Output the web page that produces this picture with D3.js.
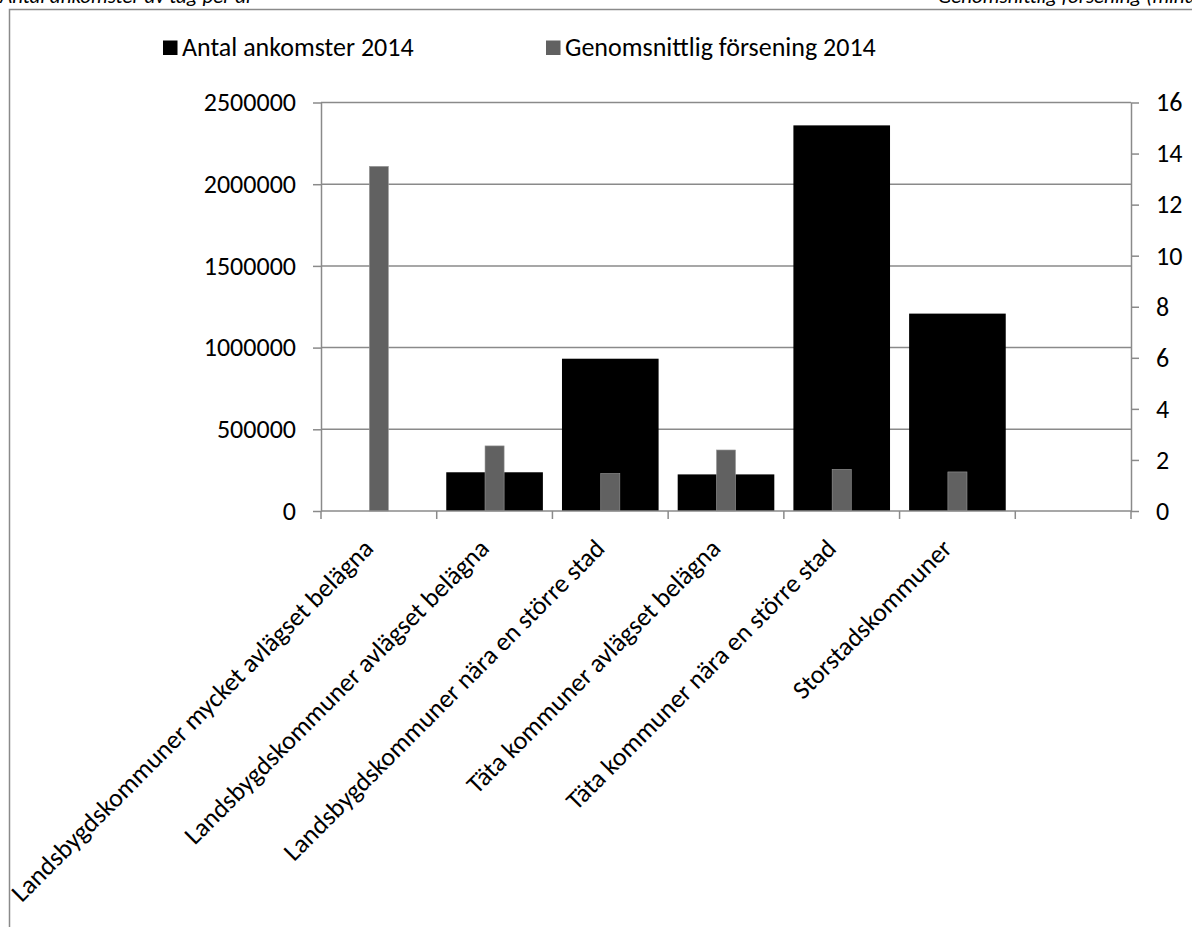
<!DOCTYPE html>
<html>
<head>
<meta charset="utf-8">
<script src="https://cdn.jsdelivr.net/npm/d3@7"></script>
<style>
  html, body { margin: 0; padding: 0; background: #fff; }
  svg { display: block; font-family: Carlito, Lato, "Open Sans", sans-serif; }
</style>
</head>
<body>
<svg id="chart" width="1192" height="927"></svg>
<script>
// Municipality groups (the last slot is an empty band on the axis)
const categories = [
  "Landsbygdskommuner mycket avlägset belägna",
  "Landsbygdskommuner avlägset belägna",
  "Landsbygdskommuner nära en större stad",
  "Täta kommuner avlägset belägna",
  "Täta kommuner nära en större stad",
  "Storstadskommuner",
  ""
];
// Number of train arrivals 2014 (left axis)
const arrivals = [0, 237000, 932000, 224000, 2360000, 1208000, null];
// Average delay 2014, minutes (right axis)
const avgDelay = [13.5, 2.55, 1.47, 2.39, 1.63, 1.53, null];

const leftTicks = [0, 500000, 1000000, 1500000, 2000000, 2500000];
const rightTicks = [0, 2, 4, 6, 8, 10, 12, 14, 16];

const seriesNames = ["Antal ankomster 2014", "Genomsnittlig försening 2014"];
const seriesColors = ["#000000", "#616161"];
const axisColor = "#8a8a8a";
const fontSize = 26;

const svg = d3.select("#chart");

const plot = { left: 321, right: 1131, top: 102.5, bottom: 511 };

const x = d3.scaleBand()
  .domain(d3.range(categories.length))
  .range([plot.left, plot.right])
  .paddingInner(0).paddingOuter(0);

const yL = d3.scaleLinear().domain([0, 2500000]).range([plot.bottom, plot.top]);
const yR = d3.scaleLinear().domain([0, 16]).range([plot.bottom, plot.top]);

// Outer frame
svg.append("rect")
  .attr("x", 9.5).attr("y", 9.5)
  .attr("width", 1300).attr("height", 1000)
  .attr("fill", "none").attr("stroke", axisColor).attr("stroke-width", 1.5);

// Axis titles (partly outside the frame at the top)
svg.append("text")
  .attr("x", 0).attr("y", 3)
  .attr("font-size", 21).attr("font-style", "italic").attr("fill", "#000")
  .text("Antal ankomster av tåg per år");
svg.append("text")
  .attr("x", 938).attr("y", 3)
  .attr("font-size", 21).attr("font-style", "italic").attr("fill", "#000")
  .text("Genomsnittlig försening (minuter)");

// Horizontal gridlines
svg.append("g")
  .selectAll("line")
  .data(leftTicks.slice(1))
  .join("line")
  .attr("x1", plot.left).attr("x2", plot.right)
  .attr("y1", d => yL(d)).attr("y2", d => yL(d))
  .attr("stroke", axisColor).attr("stroke-width", 1.5);

// Arrivals bars (wide)
const wideW = x.bandwidth() * 0.835;
svg.append("g")
  .selectAll("rect")
  .data(arrivals.map((v, i) => ({ v, i })).filter(d => d.v))
  .join("rect")
  .attr("x", d => x(d.i) + (x.bandwidth() - wideW) / 2)
  .attr("width", wideW)
  .attr("y", d => yL(d.v))
  .attr("height", d => plot.bottom - yL(d.v))
  .attr("fill", seriesColors[0]);

// Delay bars (narrow, secondary axis)
const narrowW = x.bandwidth() * 0.165;
svg.append("g")
  .selectAll("rect")
  .data(avgDelay.map((v, i) => ({ v, i })).filter(d => d.v))
  .join("rect")
  .attr("x", d => x(d.i) + (x.bandwidth() - narrowW) / 2)
  .attr("width", narrowW)
  .attr("y", d => yR(d.v))
  .attr("height", d => plot.bottom - yR(d.v))
  .attr("fill", seriesColors[1])
  .attr("stroke", "#9a9a9a").attr("stroke-width", 0.6);

// Left axis
const leftAxis = svg.append("g")
  .attr("transform", `translate(${plot.left},0)`)
  .call(d3.axisLeft(yL).tickValues(leftTicks).tickFormat(d3.format("d"))
    .tickSizeInner(8).tickSizeOuter(0).tickPadding(17));

// Right axis
const rightAxis = svg.append("g")
  .attr("transform", `translate(${plot.right},0)`)
  .call(d3.axisRight(yR).tickValues(rightTicks).tickFormat(d3.format("d"))
    .tickSizeInner(8).tickSizeOuter(0).tickPadding(17));

[leftAxis, rightAxis].forEach(g => {
  g.select(".domain").attr("stroke", axisColor).attr("stroke-width", 1.5);
  g.selectAll(".tick line").attr("stroke", axisColor).attr("stroke-width", 1.5);
  g.selectAll(".tick text").attr("fill", "#000").attr("font-size", fontSize)
    .attr("font-family", "Carlito, Lato, sans-serif");
});

// Bottom axis: ticks at band boundaries
const boundaries = d3.range(categories.length + 1).map(i => plot.left + i * x.bandwidth());
svg.append("line")
  .attr("x1", plot.left).attr("x2", plot.right)
  .attr("y1", plot.bottom).attr("y2", plot.bottom)
  .attr("stroke", axisColor).attr("stroke-width", 1.5);
svg.append("g")
  .selectAll("line")
  .data(boundaries)
  .join("line")
  .attr("x1", d => d).attr("x2", d => d)
  .attr("y1", plot.bottom).attr("y2", plot.bottom + 8)
  .attr("stroke", axisColor).attr("stroke-width", 1.5);

// Rotated category labels
svg.append("g")
  .selectAll("text")
  .data(categories.map((c, i) => ({ c, i })).filter(d => d.c))
  .join("text")
  .attr("transform", d => `translate(${x(d.i) + x.bandwidth() / 2 - 4},${plot.bottom + 39}) rotate(-45)`)
  .attr("text-anchor", "end")
  .attr("font-size", fontSize)
  .attr("fill", "#000")
  .text(d => d.c);

// Legend
const legend = svg.append("g");
const legendPos = [163, 546];
seriesNames.forEach((name, i) => {
  legend.append("rect")
    .attr("x", legendPos[i]).attr("y", 40.5)
    .attr("width", 14.5).attr("height", 14.5)
    .attr("fill", seriesColors[i]);
  legend.append("text")
    .attr("x", legendPos[i] + 19).attr("y", 56)
    .attr("font-size", fontSize).attr("fill", "#000")
    .text(name);
});
</script>
</body>
</html>
